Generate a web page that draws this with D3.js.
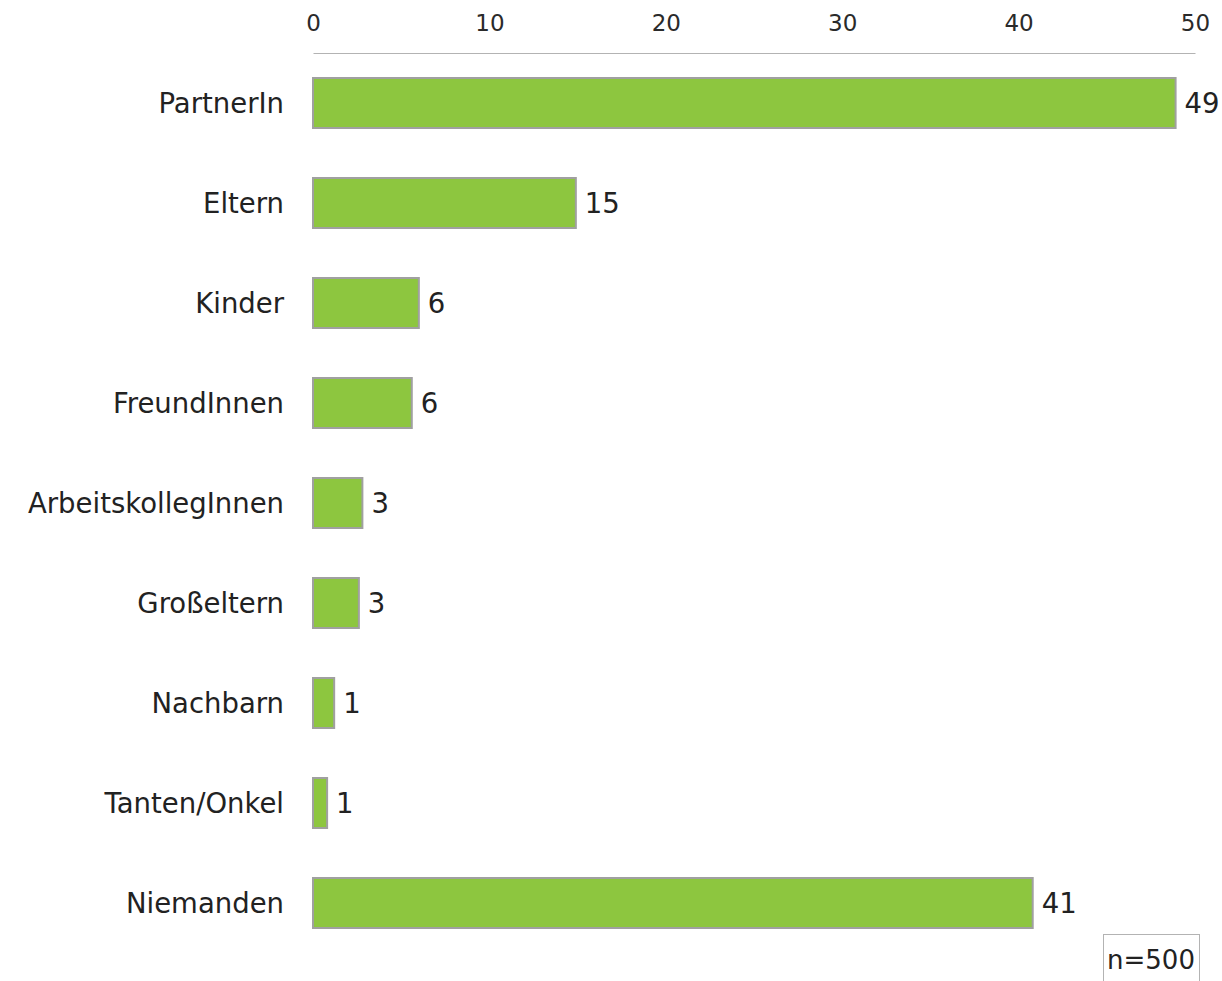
<!DOCTYPE html>
<html>
<head>
<meta charset="utf-8">
<script src="https://cdn.jsdelivr.net/npm/d3@7"></script>
<style>
  body { margin: 0; background: #fff; }
  text { font-family: "DejaVu Sans", sans-serif; }
</style>
</head>
<body>
<div id="chart"></div>
<script>
// categories and values (percent)
const categories = ["PartnerIn", "Eltern", "Kinder", "FreundInnen", "ArbeitskollegInnen",
  "Großeltern", "Nachbarn", "Tanten/Onkel", "Niemanden"];
const values = [48.9, 14.9, 6.0, 5.6, 2.8, 2.6, 1.2, 0.8, 40.8];
const valueLabels = ["49", "15", "6", "6", "3", "3", "1", "1", "41"];
const xTicks = [0, 10, 20, 30, 40, 50];
const note = "n=500";

const w = 1222, h = 981;
const padLeft = 313, padRight = 1195, axisY = 53;
const fontFam = "DejaVu Sans, sans-serif";

const svg = d3.select("#chart").append("svg")
  .attr("width", w)
  .attr("height", h);

const xScale = d3.scaleLinear().domain([0, 50]).range([padLeft, padRight]);
const yScale = d3.scaleBand().domain(categories).range([axisY, axisY + 900]).paddingInner(0.5).paddingOuter(0.25);

// top axis
const xAxis = d3.axisTop(xScale).tickValues(xTicks).tickSize(0).tickPadding(22);
const gx = svg.append("g").attr("transform", `translate(0,${axisY})`).call(xAxis);
gx.select(".domain").attr("stroke", "#b3b3b3").attr("stroke-width", 1.2);
gx.selectAll("text").attr("font-size", 23).attr("fill", "#2a2a2a").style("font-family", fontFam);

// bars
svg.selectAll("rect.bar")
  .data(categories)
  .enter()
  .append("rect")
  .attr("class", "bar")
  .attr("x", xScale(0))
  .attr("y", (d) => yScale(d))
  .attr("width", (d, i) => xScale(values[i]) - xScale(0))
  .attr("height", yScale.bandwidth())
  .attr("fill", "#8dc63f")
  .attr("stroke", "#a0a0a0")
  .attr("stroke-width", 2);

// category labels
svg.selectAll("text.cat")
  .data(categories)
  .enter()
  .append("text")
  .attr("class", "cat")
  .attr("x", padLeft - 29)
  .attr("y", (d) => yScale(d) + yScale.bandwidth() / 2)
  .attr("dy", "0.35em")
  .attr("text-anchor", "end")
  .attr("font-size", 27.5)
  .attr("fill", "#222")
  .text((d) => d);

// value labels
svg.selectAll("text.val")
  .data(categories)
  .enter()
  .append("text")
  .attr("class", "val")
  .attr("x", (d, i) => xScale(values[i]) + 9)
  .attr("y", (d) => yScale(d) + yScale.bandwidth() / 2)
  .attr("dy", "0.35em")
  .attr("font-size", 27.5)
  .attr("fill", "#222")
  .text((d, i) => valueLabels[i]);

// n box
svg.append("rect")
  .attr("x", 1103.5).attr("y", 934.5)
  .attr("width", 96).attr("height", 60)
  .attr("fill", "none").attr("stroke", "#b3b3b3");
svg.append("text")
  .attr("x", 1151).attr("y", 960)
  .attr("dy", "0.35em")
  .attr("text-anchor", "middle")
  .attr("font-size", 26)
  .attr("fill", "#222")
  .text(note);
</script>
</body>
</html>
